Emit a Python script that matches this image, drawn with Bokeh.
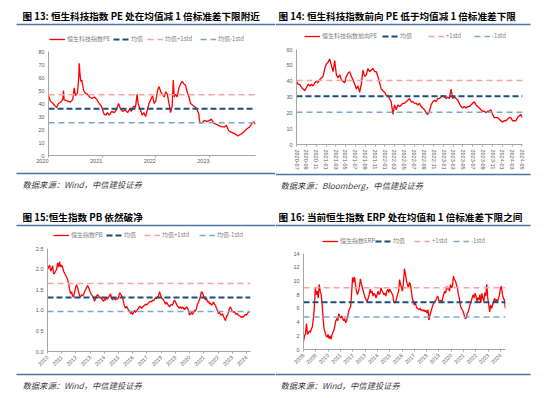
import pandas as pd
from bokeh.plotting import figure
from bokeh.layouts import column, row
from bokeh.models import (Label, Legend, LegendItem, FixedTicker, BoxAnnotation,
                          DatetimeTickFormatter, NumeralTickFormatter, Range1d)
from bokeh.embed import file_html
from bokeh.resources import INLINE

# ---------------- data ----------------
p1_title = "图 13: 恒生科技指数 PE 处在均值减 1 倍标准差下限附近"
p1_source = "数据来源：Wind，中信建投证券"
p1_labels = ["恒生科技指数PE", "均值", "均值+1std", "均值-1std"]
p1_dates = ["2020-01-02", "2020-01-13", "2020-01-31", "2020-02-15", "2020-02-26", "2020-03-08",
            "2020-03-24", "2020-04-07", "2020-04-12", "2020-04-16", "2020-05-05", "2020-05-27",
            "2020-06-14", "2020-06-24", "2020-07-02", "2020-07-16", "2020-07-25", "2020-07-28",
            "2020-08-02", "2020-08-08", "2020-08-15", "2020-08-27", "2020-09-07", "2020-09-23",
            "2020-10-07", "2020-10-22", "2020-11-09", "2020-11-25", "2020-12-11", "2020-12-25",
            "2021-01-01", "2021-01-12", "2021-01-26", "2021-02-04", "2021-02-18", "2021-03-06",
            "2021-03-23", "2021-04-06", "2021-04-22", "2021-05-04", "2021-05-20", "2021-06-07",
            "2021-06-23", "2021-07-07", "2021-07-18", "2021-08-03", "2021-08-15", "2021-08-26",
            "2021-09-02", "2021-09-18", "2021-09-30", "2021-10-11", "2021-10-23", "2021-11-04",
            "2021-11-15", "2021-11-27", "2021-12-09", "2021-12-20", "2022-01-01", "2022-01-12",
            "2022-01-23", "2022-02-03", "2022-02-15", "2022-02-26", "2022-03-09", "2022-03-20",
            "2022-03-31", "2022-04-11", "2022-04-22", "2022-04-29", "2022-05-06", "2022-05-15",
            "2022-05-26", "2022-06-07", "2022-06-18", "2022-06-29", "2022-07-11", "2022-07-22",
            "2022-08-02", "2022-08-14", "2022-08-25", "2022-09-05", "2022-09-16", "2022-09-28",
            "2022-10-09", "2022-10-20", "2022-10-27", "2022-11-07", "2022-11-19", "2022-11-27",
            "2022-12-15", "2023-01-01", "2023-01-14", "2023-01-30", "2023-02-17", "2023-03-05",
            "2023-03-28", "2023-04-13", "2023-04-26", "2023-05-12", "2023-05-28", "2023-06-15",
            "2023-07-03", "2023-07-12", "2023-07-26", "2023-08-11", "2023-08-22", "2023-09-07",
            "2023-09-18", "2023-10-02", "2023-10-18", "2023-10-29", "2023-11-09"]
p1_values = [46, 42, 40, 38, 37, 40, 41, 43, 50, 43, 42, 41, 43, 52, 46, 48, 60, 71, 63, 57, 58, 50,
             48, 47, 45, 44, 45, 43, 40, 38, 36, 32, 31, 33, 31, 34, 33, 35, 40, 36, 34, 35, 33, 36,
             34, 38, 37, 47, 40, 35, 31, 33, 30, 35, 40, 43, 46, 40, 42, 50, 53, 49, 47, 45, 49, 47,
             40, 33, 38, 58, 45, 47, 45, 52, 55, 57, 55, 54, 49, 45, 40, 39, 38, 37, 35, 32, 25, 25,
             26, 27, 26, 27, 28, 25, 24, 23, 22, 22, 23, 19, 18, 17, 16, 15, 16, 17, 18, 20, 21, 22,
             25, 26, 24]
p1_stats = [36.0, 46.8, 25.2]          # mean, +1std, -1std
p1_ticks = ["2020", "2021", "2022", "2023"]

p2_title = "图 14: 恒生科技指数前向 PE 低于均值减 1 倍标准差下限"
p2_source = "数据来源：Bloomberg，中信建投证券"
p2_labels = ["恒生科技指数前向PE", "均值", "+1std", "-1std"]
p2_start, p2_end = "2020-07-01", "2024-05-05"
p2_values = [40, 38, 38, 36, 35, 34, 36, 38, 37, 38, 37, 39, 40, 39, 41, 42, 43, 48, 51, 52, 54, 50,
             46, 53, 44, 42, 44, 41, 40, 39, 43, 45, 46, 43, 41, 38, 35, 37, 33, 38, 47, 43, 44, 48,
             46, 47, 48, 46, 46, 43, 39, 35, 34, 33, 31, 31, 29, 27, 19, 25, 22, 25, 24, 25, 26, 26,
             27, 28, 29, 27, 27, 26, 26, 25, 26, 24, 23, 22, 20, 19, 21, 25, 27, 28, 27, 29, 29, 30,
             31, 30, 29, 30, 29, 35, 29, 30, 29, 28, 26, 24, 23, 24, 23, 24, 24, 25, 26, 27, 25, 24,
             23, 22, 21, 21, 20, 21, 21, 22, 19, 17, 17, 17, 16, 15, 14, 15, 15, 16, 17, 17, 15, 15,
             15, 17, 18, 19, 17]
p2_stats = [30.4, 40.4, 20.4]
p2_ticks = ["2020-07", "2020-09", "2020-11", "2021-01", "2021-03", "2021-05", "2021-07", "2021-09",
            "2021-11", "2022-01", "2022-03", "2022-05", "2022-07", "2022-09", "2022-11", "2023-01",
            "2023-03", "2023-05", "2023-07", "2023-09", "2023-11", "2024-01", "2024-03", "2024-05"]

p3_title = "图 15:恒生指数 PB 依然破净"
p3_source = "数据来源：Wind，中信建投证券"
p3_labels = ["恒生指数PB", "均值", "均值+1std", "均值-1std"]
p3_start, p3_end = "2010-01-04", "2024-03-19"
p3_values = [2.0, 2.05, 2.1, 1.95, 2.0, 2.08, 1.88, 1.9, 1.95, 2.0, 2.15, 2.05, 2.18, 2.05, 2.1, 2.05,
             1.95, 1.9, 1.85, 1.8, 1.75, 1.65, 1.5, 1.4, 1.45, 1.35, 1.32, 1.45, 1.55, 1.62, 1.55,
             1.45, 1.35, 1.32, 1.38, 1.35, 1.38, 1.45, 1.5, 1.55, 1.6, 1.55, 1.48, 1.42, 1.38, 1.35,
             1.3, 1.22, 1.3, 1.35, 1.38, 1.35, 1.3, 1.32, 1.28, 1.25, 1.22, 1.28, 1.25, 1.3, 1.27,
             1.32, 1.35, 1.4, 1.3, 1.25, 1.3, 1.28, 1.25, 1.3, 1.27, 1.32, 1.42, 1.4, 1.35, 1.3, 1.2,
             1.1, 1.05, 1.1, 1.05, 1.0, 0.98, 0.92, 0.95, 0.9, 0.95, 1.0, 0.95, 0.98, 1.02, 1.05, 1.1,
             1.08, 1.05, 1.08, 1.1, 1.12, 1.15, 1.13, 1.15, 1.18, 1.2, 1.22, 1.2, 1.25, 1.23, 1.27,
             1.3, 1.28, 1.32, 1.35, 1.45, 1.38, 1.3, 1.28, 1.25, 1.2, 1.15, 1.2, 1.15, 1.12, 1.08,
             1.12, 1.15, 1.12, 1.2, 1.25, 1.2, 1.15, 1.1, 1.08, 1.05, 1.08, 1.05, 1.08, 1.05, 1.02,
             1.05, 1.08, 1.05, 1.0, 0.88, 0.92, 0.95, 0.9, 0.95, 1.0, 0.98, 1.05, 1.15, 1.2, 1.25,
             1.35, 1.45, 1.42, 1.35, 1.3, 1.25, 1.3, 1.2, 1.22, 1.15, 1.18, 1.12, 1.15, 1.2, 1.15,
             1.12, 1.05, 1.0, 0.92, 0.95, 0.9, 0.88, 0.92, 0.85, 0.8, 0.75, 0.85, 0.88, 0.95, 1.05,
             1.08, 1.02, 0.98, 0.95, 0.97, 0.92, 0.9, 0.92, 0.88, 0.87, 0.85, 0.82, 0.85, 0.83, 0.88,
             0.9, 0.88, 0.93, 0.95, 0.97]
p3_stats = [1.31, 1.65, 0.97]
p3_ticks = ["2010", "2011", "2012", "2013", "2014", "2015", "2016", "2017", "2018", "2019",
            "2020", "2021", "2022", "2023", "2024"]

p4_title = "图 16: 当前恒生指数 ERP 处在均值和 1 倍标准差下限之间"
p4_source = "数据来源：Wind，中信建投证券"
p4_labels = ["恒生指数ERP", "均值", "+1std", "-1std"]
p4_start, p4_end = "2008-01-02", "2024-05-25"
p4_values = [1.2, 2.0, 2.3, 3.8, 2.2, 2.4, 2.7, 2.5, 3.0, 3.3, 4.5, 6.0, 9.0, 8.0, 8.5, 7.5, 9.5, 8.5,
             8.0, 6.5, 4.5, 3.0, 2.5, 2.0, 1.8, 2.2, 1.6, 2.0, 1.5, 2.1, 2.5, 2.8, 3.5, 4.2, 4.5, 4.2,
             5.2, 4.8, 4.6, 4.9, 4.5, 4.2, 4.5, 3.9, 4.3, 4.8, 5.5, 6.0, 6.2, 8.0, 10.5, 9.8, 10.6,
             9.5, 8.5, 8.0, 8.5, 9.0, 10.3, 9.6, 9.0, 8.5, 8.0, 7.5, 7.2, 7.0, 7.5, 8.0, 8.8, 8.2,
             8.5, 7.8, 8.2, 8.0, 7.5, 8.0, 8.5, 8.0, 8.2, 9.0, 8.6, 8.3, 8.0, 8.2, 7.8, 8.5, 8.8, 8.3,
             8.8, 8.5, 8.2, 8.0, 7.0, 6.8, 7.0, 7.5, 8.0, 8.5, 10.2, 9.5, 9.0, 8.5, 9.8, 11.8, 11.0,
             10.0, 9.5, 9.0, 9.8, 9.5, 8.5, 7.5, 7.0, 6.5, 6.8, 6.3, 6.0, 5.9, 5.8, 6.0, 5.7, 5.8,
             5.6, 5.8, 5.5, 5.7, 5.3, 5.8, 4.3, 5.0, 5.5, 6.0, 6.5, 6.8, 7.0, 7.2, 7.5, 7.8, 7.2, 7.0,
             7.2, 6.8, 7.5, 8.0, 8.5, 8.2, 9.2, 8.8, 9.0, 8.5, 9.5, 9.0, 9.2, 10.7, 10.2, 10.0, 9.5,
             9.0, 8.0, 7.5, 6.5, 6.0, 5.8, 5.5, 5.0, 4.5, 4.6, 5.2, 5.5, 6.0, 6.5, 7.0, 7.5, 8.0, 7.5,
             8.2, 7.8, 7.0, 7.6, 7.2, 8.0, 6.8, 8.2, 7.5, 7.0, 8.3, 7.8, 9.5, 7.5, 6.5, 5.5, 6.5, 6.0,
             6.5, 7.0, 7.5, 7.0, 7.3, 7.0, 7.5, 8.0, 9.0, 9.2, 8.0, 7.5, 7.2, 6.0]
p4_stats = [6.9, 9.0, 4.75]
p4_ticks = ["2008", "2009", "2010", "2011", "2012", "2013", "2014", "2015", "2016", "2017",
            "2018", "2019", "2020", "2021", "2022", "2023", "2024"]

# ---------------- styling ----------------
RED = "#ff0000"
NAVY = "#1f4e79"
PINK = "#f7a3a3"
LBLUE = "#7fa6cc"
SEP = "#4a76a8"
CJK = "Noto Sans CJK SC"
W, H = 275, 199
STYLES = [dict(line_color=RED, line_width=1.3),
          dict(line_color=NAVY, line_width=2, line_dash="6 3"),
          dict(line_color=PINK, line_width=1.5, line_dash="6 4"),
          dict(line_color=LBLUE, line_width=1.5, line_dash="6 4")]


def ms(s):
    return pd.Timestamp(s).value / 1e6


def strip(ox, y0, y1):
    """Decoration strip covering the full panel width; data units = page pixels."""
    p = figure(frame_width=W, frame_height=y1 - y0, output_backend="svg", frame_align=False,
               toolbar_location=None, title=None, x_axis_location=None, y_axis_location=None,
               min_border_left=0, min_border_right=0, min_border_top=0, min_border_bottom=0,
               x_range=Range1d(ox, ox + W), y_range=Range1d(y1, y0))
    p.outline_line_color = None
    p.xgrid.visible = False
    p.ygrid.visible = False
    p.background_fill_color = None
    p.border_fill_color = None
    return p


def rule(p, x0, x1, y):
    p.add_layout(BoxAnnotation(left=x0, right=x1, top=y - 0.75, bottom=y + 0.75,
                               fill_color=SEP, fill_alpha=1, line_color=None))


def make_panel(cfg):
    ox, oy = cfg["origin"]
    fl, ft, fr, fb = cfg["frame"]
    head_bottom = ft - 6
    foot_top = cfg["foot_top"]
    sx0, sx1 = cfg["sep_x"]

    # ---- header: title, rule, legend ----
    hd = strip(ox, oy, head_bottom)
    tx, ty = cfg["title_pos"]
    hd.add_layout(Label(x=tx, y=ty, text=cfg["title"], text_font=CJK, text_font_size="9.6px",
                        text_font_style="bold", text_color="#000000",
                        text_baseline="middle", text_align="left"))
    rule(hd, sx0, sx1, cfg["sep_y"][0])
    # legend sample renderers (their data sit outside the strip's visible range)
    dummies = [hd.line(x=[ox - 500, ox - 400], y=[oy, oy], **st) for st in STYLES]
    for r, lab, (gx, gy) in zip(dummies, cfg["labels"], cfg["legend_pos"]):
        lg = Legend(items=[LegendItem(label=lab, renderers=[r])],
                    location=(gx - ox, head_bottom - (gy + 4)), orientation="horizontal",
                    padding=0, margin=0, spacing=0, border_line_color=None,
                    background_fill_alpha=0, glyph_width=16, glyph_height=8,
                    label_height=8, label_width=0, label_standoff=2,
                    label_text_font=CJK, label_text_font_size="6px",
                    label_text_color="#7f7f7f")
        hd.add_layout(lg)

    # ---- chart ----
    p = figure(frame_width=fr - fl, frame_height=fb - ft, x_axis_type="datetime",
               output_backend="svg", toolbar_location=None, title=None, frame_align=False,
               min_border_left=fl - ox, min_border_right=ox + W - fr,
               min_border_top=ft - head_bottom, min_border_bottom=foot_top - fb,
               x_range=Range1d(pd.Timestamp(cfg["xr"][0]), pd.Timestamp(cfg["xr"][1])),
               y_range=Range1d(cfg["yr"][0], cfg["yr"][1]))
    p.outline_line_color = None
    p.xgrid.visible = False
    p.ygrid.visible = False
    p.background_fill_color = None
    p.border_fill_color = None

    x0, x1 = pd.Timestamp(cfg["xr"][0]), pd.Timestamp(cfg["xr"][1])
    p.line(cfg["dates"], cfg["values"], **STYLES[0])
    for v, st in zip(cfg["stats"], STYLES[1:]):
        p.line([x0, x1], [v, v], **st)

    p.xaxis.ticker = FixedTicker(ticks=[ms(t) for t in cfg["ticks"]])
    f = cfg["xfmt"]
    p.xaxis.formatter = DatetimeTickFormatter(days=f, months=f, years=f)
    p.xaxis.major_label_orientation = cfg["xorient"]
    for ax in (p.xaxis, p.yaxis):
        ax.axis_line_color = "#a6a6a6"
        ax.major_tick_line_color = "#a6a6a6"
        ax.minor_tick_line_color = None
        ax.major_label_text_font = "Liberation Sans"
        ax.major_label_text_font_size = "5.5px"
        ax.major_label_text_color = "#595959"
        ax.major_tick_in = 0
    p.xaxis.major_tick_out = 2
    p.xaxis.major_label_standoff = 3
    p.yaxis.major_tick_out = 0
    p.yaxis.major_label_standoff = 4
    p.yaxis.ticker = FixedTicker(ticks=cfg["yticks"])
    if cfg.get("yfmt"):
        p.yaxis.formatter = NumeralTickFormatter(format=cfg["yfmt"])

    # ---- footer: rule and source ----
    fo = strip(ox, foot_top, oy + H)
    rule(fo, sx0, sx1, cfg["sep_y"][1])
    sx, sy = cfg["source_pos"]
    fo.add_layout(Label(x=sx, y=sy, text=cfg["source"], text_font=CJK,
                        text_font_size="8.3px", text_font_style="italic",
                        text_color="#404040", text_baseline="middle", text_align="left"))
    return column(hd, p, fo, spacing=0)


cfg1 = dict(origin=(0, 0), frame=(48, 51, 255, 155), foot_top=171,
            xr=("2020-01-01", "2023-11-10"), yr=(0, 80),
            yticks=[0, 10, 20, 30, 40, 50, 60, 70, 80], ticks=p1_ticks, xfmt="%Y", xorient=0,
            dates=pd.to_datetime(p1_dates), values=p1_values, stats=p1_stats, labels=p1_labels,
            legend_pos=[(49, 39), (113, 39), (147, 39), (200, 39)],
            title=p1_title, title_pos=(22, 15), source=p1_source, source_pos=(22, 183),
            sep_x=(16, 275), sep_y=(24, 173))
cfg2 = dict(origin=(275, 0), frame=(296, 49, 522, 144), foot_top=171,
            xr=(p2_start, p2_end), yr=(0, 60),
            yticks=[0, 10, 20, 30, 40, 50, 60], ticks=p2_ticks, xfmt="%Y-%m", xorient="vertical",
            dates=pd.date_range(p2_start, p2_end, periods=len(p2_values)), values=p2_values,
            stats=p2_stats, labels=p2_labels,
            legend_pos=[(304, 36), (382, 36), (428, 36), (474, 36)],
            title=p2_title, title_pos=(278, 15), source=p2_source, source_pos=(280, 183),
            sep_x=(275, 530), sep_y=(24, 173))
cfg3 = dict(origin=(0, 199), frame=(47, 247, 250, 350), foot_top=371,
            xr=("2010-01-01", "2024-04-15"), yr=(0, 2.5),
            yticks=[0, 0.5, 1.0, 1.5, 2.0, 2.5], yfmt="0.0", ticks=p3_ticks, xfmt="%Y", xorient=0.785,
            dates=pd.date_range(p3_start, p3_end, periods=len(p3_values)), values=p3_values,
            stats=p3_stats, labels=p3_labels,
            legend_pos=[(53, 234), (106, 234), (144, 234), (199, 234)],
            title=p3_title, title_pos=(22, 215), source=p3_source, source_pos=(22, 383),
            sep_x=(16, 275), sep_y=(224, 373))
cfg4 = dict(origin=(275, 199), frame=(303, 252, 505, 348), foot_top=371,
            xr=("2008-01-01", "2024-05-28"), yr=(0, 14),
            yticks=[0, 2, 4, 6, 8, 10, 12, 14], ticks=p4_ticks, xfmt="%Y", xorient=0.785,
            dates=pd.date_range(p4_start, p4_end, periods=len(p4_values)), values=p4_values,
            stats=p4_stats, labels=p4_labels,
            legend_pos=[(322, 240), (375, 240), (414, 240), (453, 240)],
            title=p4_title, title_pos=(278, 215), source=p4_source, source_pos=(280, 383),
            sep_x=(275, 530), sep_y=(224, 373))

cols = [make_panel(c) for c in (cfg1, cfg2, cfg3, cfg4)]
page = column(row(cols[0], cols[1], spacing=0), row(cols[2], cols[3], spacing=0), spacing=0)

open("out.html", "w").write(file_html(page, INLINE))
